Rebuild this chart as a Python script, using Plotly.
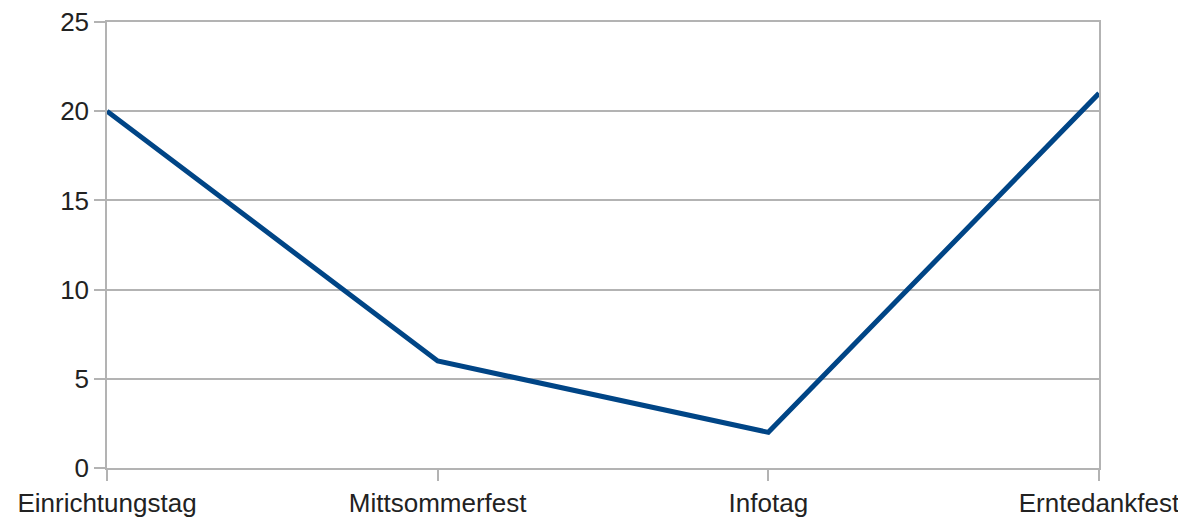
import plotly.graph_objects as go

categories = ["Einrichtungstag", "Mittsommerfest", "Infotag", "Erntedankfest"]
values = [20, 6, 2, 21]
y_ticks = [0, 5, 10, 15, 20, 25]

grid = "#b3b3b3"
font = dict(family="Liberation Sans, Arial, sans-serif", size=26, color="#222222")

fig = go.Figure()
fig.add_trace(go.Scatter(
    x=list(range(len(categories))), y=values, mode="lines",
    line=dict(color="#004586", width=5), hoverinfo="skip", cliponaxis=False,
))

fig.update_layout(
    width=1178, height=510,
    margin=dict(l=99, r=87, t=14, b=50, pad=0),
    paper_bgcolor="white", plot_bgcolor="white",
    showlegend=False, font=font,
)
fig.update_xaxes(
    range=[0, len(categories) - 1], automargin=False, ticklabeloverflow="allow",
    tickmode="array", tickvals=list(range(len(categories))), ticktext=categories,
    showgrid=False, zeroline=False,
    showline=True, linecolor=grid, linewidth=1.5, mirror=True,
    ticks="outside", ticklen=11, tickcolor=grid, tickwidth=1.5,
    tickfont=font,
)
fig.update_yaxes(
    range=[0, 25], tickmode="array", tickvals=y_ticks, automargin=False,
    ticklabeloverflow="allow",
    showgrid=True, gridcolor=grid, gridwidth=1.5, zeroline=False,
    showline=True, linecolor=grid, linewidth=1.5, mirror=True,
    ticks="outside", ticklen=11, tickcolor=grid, tickwidth=1.5,
    tickfont=font,
)

fig.write_html("out.html")
